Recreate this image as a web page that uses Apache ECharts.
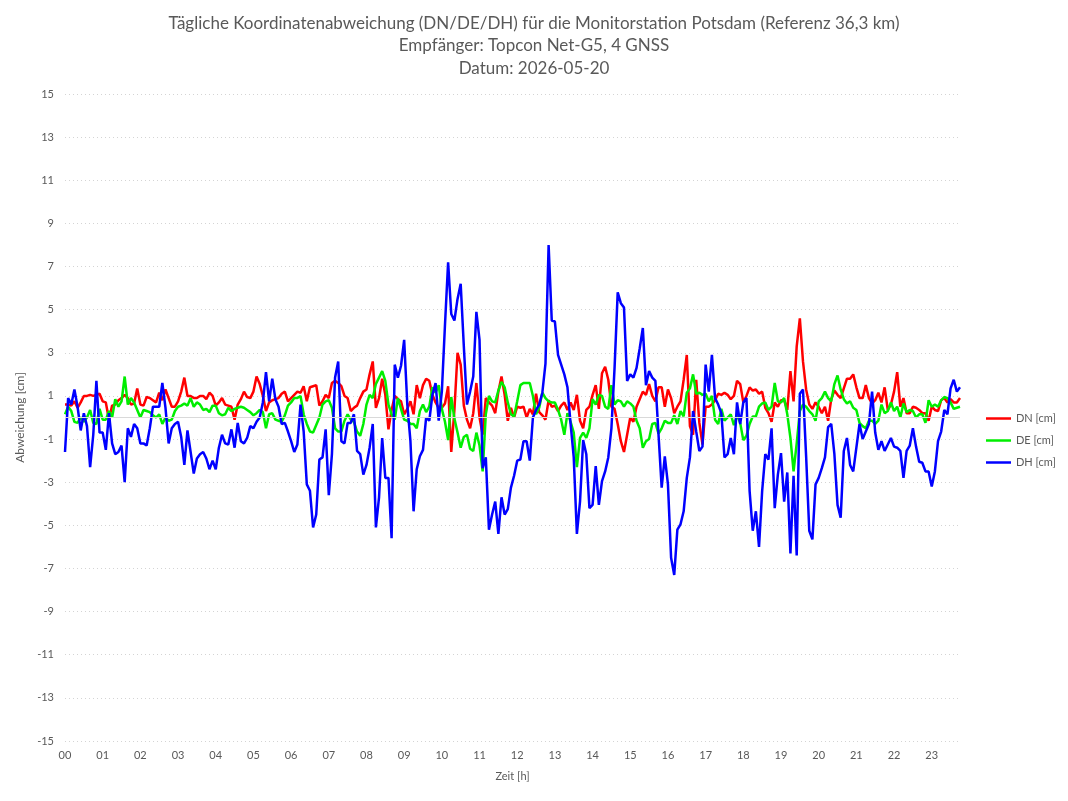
<!DOCTYPE html>
<html>
<head>
<meta charset="utf-8">
<title>Koordinatenabweichung Potsdam</title>
<script src="https://cdn.jsdelivr.net/npm/echarts@6/dist/echarts.min.js"></script>
<style>
  html, body { margin: 0; padding: 0; background: #fff; }
  #chart { width: 1068px; height: 801px; }
</style>
</head>
<body>
<div id="chart"></div>
<script>
// 5-Minuten-Takt, 00:00 bis 23:45
var zeit = [];
for (var i = 0; i < 286; i++) {
  var h = Math.floor(i / 12), m = (i % 12) * 5;
  zeit.push((h < 10 ? '0' : '') + h + ':' + (m < 10 ? '0' : '') + m);
}

var dn = [0.6,0.6,0.55,0.75,0.45,0.7,1.0,1.0,1.05,1.0,1.05,1.1,0.75,0.7,-0.1,0.55,0.6,0.8,0.9,1.05,0.9,0.6,0.65,1.35,0.6,0.55,0.95,0.9,0.8,0.7,1.15,0.8,1.3,0.9,0.5,
  0.5,0.75,1.2,1.85,1.0,1.0,0.9,0.9,1.0,1.0,0.85,1.15,1.0,0.55,0.7,0.9,0.6,0.55,0.5,-0.1,0.6,0.85,1.2,0.95,0.9,1.2,1.9,1.55,1.0,0.3,0.7,0.8,0.85,0.9,1.1,1.2,0.75,0.9,
  1.05,1.2,1.15,1.45,0.75,1.4,1.45,1.5,0.55,0.75,1.05,0.9,1.6,1.7,1.6,1.45,1.0,0.9,0.3,0.45,0.55,0.9,1.2,1.3,2.0,2.6,0.45,0.9,1.8,1.05,-0.55,0.35,1.0,0.85,0.75,0.15,
  0.4,0.75,0.15,1.5,0.9,1.5,1.8,1.7,1.05,0.7,0.45,0.45,0.65,1.45,-1.6,0.35,3.0,2.45,0.55,-0.1,-0.5,0.2,1.6,0,-0.8,0.9,0.7,0.55,0.2,1.2,1.9,1.05,-0.15,0.45,0,0.5,0.45,
  0.5,0,0.4,0.15,1.1,0.25,0.1,-0.1,0.8,0.5,0.55,0.3,0.55,0.7,0.35,0.7,0.35,1.05,-0.15,-0.5,0.35,0.5,1.05,1.5,0.4,2.05,2.35,1.75,0.5,0.4,-0.3,-1.1,-1.6,-0.8,0,-0.2,
  0.5,0.85,1.2,1.05,1.55,1.0,0.75,1.4,1.4,0.5,1.3,0.9,0.2,0.5,0.75,1.75,2.9,-0.4,-0.8,1.75,-0.25,-1.25,0.5,0.5,0.6,0.8,1.1,1.05,1.15,1.05,0.85,1.0,1.7,1.55,0.7,1.0,
  1.4,1.25,1.3,1.1,1.2,0.45,0.2,-0.2,0.7,0.5,0.8,0.8,0.35,2.15,0.75,3.3,4.6,2.6,1.3,0.6,0.4,0.7,0.5,0.2,0.5,-0.15,0.85,1.25,1.05,0.9,1.35,1.8,1.8,2.0,1.4,0.9,0.9,
  1.5,0.9,0.65,0.8,1.15,0.7,1.4,0.35,0.6,1.2,2.1,0.5,0.9,0.2,0.2,0.5,0.45,0.35,0.2,0.2,-0.15,0.5,0.35,0.3,0.8,0.9,0.7,0.85,0.7,0.7,0.9];

var de = [0.15,0.5,0.3,-0.2,-0.25,0,-0.2,0,0.35,-0.25,-0.3,0.4,-0.1,-0.1,0.3,0,0.85,0.5,0.75,1.9,0.6,0.9,0.7,0.35,0,0.35,0.3,0.25,0.1,0,0.15,-0.3,0,-0.15,-0.1,
  0.3,0.5,0.55,0.65,0.55,0.9,0.5,0.7,0.6,0.35,0.4,0.25,0.55,0.55,0.2,0.1,0.15,0.45,0.3,0.4,0.45,0.5,0.45,0.35,0.25,0.1,0.2,0.35,0.25,-0.5,0.15,0.2,-0.1,-0.15,-0.2,0.1,0.55,0.7,
  0.9,0.9,1.0,0.15,-0.3,-0.65,-0.7,-0.35,0,0.6,0.75,0.8,0.45,-0.5,-0.65,-0.65,-0.15,0.15,-0.1,-0.2,-0.65,-0.85,-0.3,0.6,1.05,0.9,1.55,1.85,2.15,1.7,0.6,0.15,-0.1,0.9,0.4,-0.1,
  -0.15,-0.3,-0.3,-0.5,0.3,0.6,0.25,0.5,1.4,1.15,1.5,0.4,-0.2,-1.05,0.95,-0.05,-0.7,-1.4,-0.9,-0.8,-1.45,-1.55,-0.7,-1.3,-2.5,0.15,1.0,0.75,0.7,1.25,1.65,1.4,0.7,0.15,0.05,0.75,1.5,
  1.6,1.6,1.6,1.0,0.15,0.45,1.15,0.9,0.75,0.7,0.7,0.35,-0.1,-0.8,0.2,-0.2,-0.7,-2.3,-0.95,-0.7,-0.95,-0.5,0.85,0.6,1.05,1.0,0.5,0.4,1.5,0.6,0.8,0.75,0.5,0.75,0.65,0.5,
  -0.15,-0.5,-1.4,-1.1,-1.0,-0.3,-0.25,-0.75,-0.5,-0.15,-0.25,-0.25,0.1,-0.3,0.3,0.05,1.15,1.35,2.0,1.1,1.15,1.05,1.1,0.75,1.0,-0.1,-0.3,0.4,-0.15,0,0.15,-0.35,0.1,-0.25,-1.05,-0.85,
  -0.3,0.05,0.05,0.5,0.65,0.7,0.35,0.5,1.6,0.75,0.7,0.9,0.15,-0.95,-2.5,-1.2,0.3,0.6,0.5,0.3,0.15,-0.15,0.75,0.9,1.2,0.9,0.75,1.55,1.95,1.3,0.85,0.65,0.75,0.45,0.35,-0.25,-0.4,
  -0.5,-0.15,-0.15,-0.3,-0.15,0.6,0.2,0.3,0.7,0.3,0.5,0,0.65,0.25,0.35,0.3,0,0.15,0.15,-0.25,0.8,0.5,0.6,0.5,0.8,0.95,0.9,0.7,0.4,0.45,0.5];

var dh = [-1.6,0.9,0.6,1.3,0.5,-0.6,0.2,-0.4,-2.3,-0.8,1.7,-0.7,-0.7,-1.5,0.2,-1.2,-1.7,-1.6,-1.3,-3.0,-0.5,-0.9,-0.3,-0.5,-1.2,-1.2,-1.3,-0.5,0.5,0.5,0.5,1.6,0.45,-1.2,-0.5,
  -0.3,-0.2,-0.9,-2.2,-0.6,-1.6,-2.6,-1.9,-1.7,-1.6,-1.9,-2.4,-2.0,-2.4,-1.4,-0.8,-1.2,-1.25,-0.55,-1.4,-0.25,-1.1,-1.2,-0.95,-0.4,-0.5,-0.2,0,0.7,2.1,0.75,1.8,0.85,0.5,-0.3,-0.25,-0.65,-1.1,
  -1.6,-1.25,0.6,-0.65,-3.1,-3.4,-5.1,-4.5,-1.95,-1.85,-0.55,-3.6,-1.7,1.85,2.6,-1.1,-1.2,-0.25,-0.25,0.15,-1.55,-1.7,-2.65,-2.2,-1.4,-0.3,-5.1,-3.7,-0.95,-2.8,-2.8,-5.6,2.45,1.85,2.4,3.6,
  0.6,-1.1,-4.35,-2.4,-1.8,-1.5,0,-0.15,1.05,1.6,-0.15,1.2,4.3,7.2,4.8,4.5,5.5,6.2,3.3,0.6,1.2,1.9,4.9,3.6,-2.35,-1.85,-5.2,-4.5,-3.9,-5.4,-3.7,-4.5,-4.25,-3.25,-2.7,-2.0,-1.95,
  -1.1,-1.1,-2.0,0,0.35,0.6,1.15,2.5,8.0,4.5,4.45,2.9,2.45,2.0,1.4,-0.3,-1.85,-5.4,-3.9,-1.05,-1.7,-4.2,-4.05,-2.25,-4.05,-2.95,-2.5,-1.85,-0.5,2.3,5.8,5.3,5.1,1.7,2.0,1.85,
  2.3,3.2,4.15,1.5,2.15,1.85,1.7,-0.8,-3.25,-1.8,-3.1,-6.5,-7.3,-5.2,-4.95,-4.35,-2.8,-1.85,0.3,-0.65,-1.55,-1.35,2.45,1.2,2.9,0.9,0.6,0.2,-1.85,-1.7,-0.95,-1.7,0.7,-0.3,0.7,0.9,
  -3.4,-5.25,-4.35,-6.0,-3.4,-1.7,-1.95,-0.5,-4.2,-2.65,-1.65,-3.9,-2.55,-6.3,-2.7,-6.4,1.1,1.3,-1.8,-5.25,-5.65,-3.1,-2.8,-2.35,-1.85,-0.45,-0.3,-1.7,-4.05,-4.65,-1.55,-0.95,-2.2,-2.5,-1.4,-0.3,-1.0,
  -0.65,-0.3,1.2,-0.7,-1.5,-1.1,-1.55,-1.25,-0.95,-1.35,-1.4,-1.55,-2.8,-1.55,-1.3,-0.5,-1.35,-2.05,-2.1,-2.5,-2.5,-3.2,-2.5,-1.1,-0.65,0.35,0.15,1.35,1.75,1.2,1.4];

var serienNamen = ['DN [cm]', 'DE [cm]', 'DH [cm]'];
var farben = ['#ff0000', '#00ee00', '#0000ff'];
var titelText = 'Tägliche Koordinatenabweichung (DN/DE/DH) für die Monitorstation Potsdam (Referenz 36,3 km)\n' +
  'Empfänger: Topcon Net-G5, 4 GNSS\nDatum: 2026-05-20';

var grau = '#595959';
var schrift = 'Lato, "Open Sans", sans-serif';

var chart = echarts.init(document.getElementById('chart'));
chart.setOption({
  backgroundColor: '#fff',
  animation: false,
  textStyle: { fontFamily: schrift },
  title: {
    text: titelText,
    left: 'center',
    top: 7,
    textStyle: { color: grau, fontSize: 17, fontWeight: 'normal', lineHeight: 22.5, fontFamily: schrift }
  },
  legend: {
    orient: 'vertical',
    left: 981,
    top: 408,
    itemWidth: 25,
    itemHeight: 14,
    itemGap: 11,
    icon: 'path://M0,0 L25,0 L25,2.5 L0,2.5 Z',
    data: serienNamen,
    textStyle: { color: grau, fontSize: 11 }
  },
  grid: { left: 65, right: 108, top: 94, bottom: 60 },
  xAxis: {
    type: 'category',
    data: zeit,
    boundaryGap: false,
    name: 'Zeit [h]',
    nameLocation: 'middle',
    nameGap: 30,
    nameTextStyle: { color: grau, fontSize: 11 },
    axisLine: { show: false },
    axisTick: { show: false },
    splitLine: { show: false },
    axisLabel: {
      color: grau,
      fontSize: 11,
      margin: 9,
      interval: function (idx) { return idx % 12 === 0; },
      formatter: function (v) { return v.slice(0, 2); }
    }
  },
  yAxis: {
    type: 'value',
    min: -15,
    max: 15,
    interval: 2,
    name: 'Abweichung [cm]',
    nameLocation: 'middle',
    nameGap: 35,
    nameTextStyle: { color: grau, fontSize: 12 },
    axisLine: { show: false },
    axisTick: { show: false },
    axisLabel: { color: grau, fontSize: 11, margin: 11 },
    splitLine: { lineStyle: { color: '#d4d4d4', width: 1, type: [1, 3] } }
  },
  series: [
    {
      name: serienNamen[0], type: 'line', data: dn, symbol: 'none',
      color: farben[0], lineStyle: { width: 2.5, color: farben[0] },
      markLine: {
        silent: true, symbol: 'none', label: { show: false },
        lineStyle: { color: '#d9d9d9', width: 1, type: 'solid' },
        data: [{ yAxis: 0 }]
      },
      z: 2
    },
    {
      name: serienNamen[1], type: 'line', data: de, symbol: 'none',
      color: farben[1], lineStyle: { width: 2.5, color: farben[1] }, z: 3
    },
    {
      name: serienNamen[2], type: 'line', data: dh, symbol: 'none',
      color: farben[2], lineStyle: { width: 2.5, color: farben[2] }, z: 4
    }
  ]
});
</script>
</body>
</html>
